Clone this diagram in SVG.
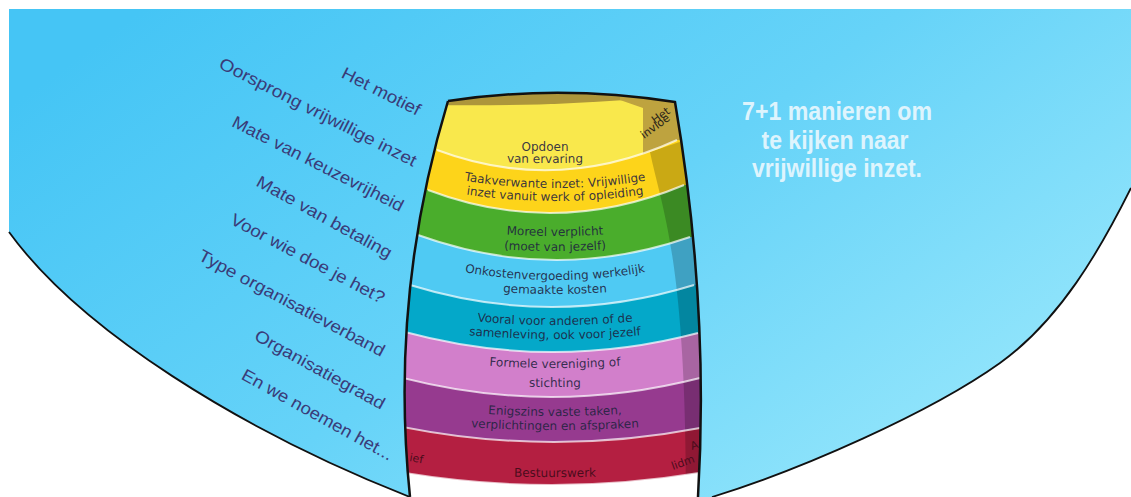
<svg xmlns="http://www.w3.org/2000/svg" width="1131" height="497" viewBox="0 0 1131 497">
<style>
.lbl{font-family:"Liberation Sans",Arial,sans-serif;font-size:17px;fill:#3a3b78;}
.bt{font-family:"DejaVu Sans","Liberation Sans",sans-serif;font-size:12px;fill:#1f2340;fill-opacity:.9;text-anchor:middle;}
.bl{fill:none;stroke:#ffffff;stroke-opacity:.7;stroke-width:2;}
.edge{fill:none;stroke:#111;stroke-width:1.8;}
.title{font-family:"Liberation Sans Narrow","Liberation Sans",Arial,sans-serif;font-weight:bold;font-size:26px;fill:#eaf8fe;fill-opacity:.92;text-anchor:middle;}
.part{font-family:"DejaVu Sans","Liberation Sans",sans-serif;font-size:11px;fill:#2a2418;}
</style>
<defs>
<linearGradient id="bg" x1="0" y1="0.2" x2="1" y2="0.8">
<stop offset="0" stop-color="#45c5f5"/>
<stop offset="0.5" stop-color="#66d3f8"/>
<stop offset="1" stop-color="#9ae8fc"/>
</linearGradient>
<clipPath id="barrelClip">
<path d="M448,101 Q560,84 675,102 C690,190 708,330 698,497 L410,497 C400,400 400,260 448,101 Z"/>
</clipPath>
<path id="p1b" d="M420,159 Q545,167 670,159"/>
<path id="p2a" d="M430,174 Q555,202 680,174"/>
<path id="p2b" d="M430,188 Q555,214 680,188"/>
<path id="p3a" d="M430,226 Q555,246 680,226"/>
<path id="p3b" d="M430,241 Q555,261 680,241"/>
<path id="p4a" d="M430,265 Q555,295 680,265"/>
<path id="p4b" d="M430,284 Q555,304 680,284"/>
<path id="p5a" d="M430,316 Q555,334 680,316"/>
<path id="p5b" d="M430,331 Q555,347 680,331"/>
<path id="p6a" d="M430,360 Q555,376 680,360"/>
<path id="p6b" d="M430,384 Q555,390 680,384"/>
<path id="p7a" d="M430,409 Q555,423 680,409"/>
<path id="p7b" d="M430,424 Q555,436 680,424"/>
<path id="p8" d="M430,474 Q555,480 680,474"/>
</defs>

<g id="background">
<path d="M9,9 L1131,9 L1131,188 C1100,250 1060,320 1000,363 C930,413 800,470 712,497 L410,497 C240,430 80,330 9,232 Z" fill="url(#bg)"/>
<path class="edge" d="M9,232 C80,330 240,430 410,497"/>
<path class="edge" d="M1131,188 C1100,250 1060,320 1000,363 C930,413 800,470 712,497"/>
</g>

<g id="barrel" clip-path="url(#barrelClip)">
<g id="band1"><path d="M380,80 L730,80 L730,500 L380,500 Z" fill="#f9e84c"/>
<path d="M380,80 L625,80 L625,100 Q520,108 380,104 Z" fill="#ad963b"/>
<path d="M620,88 L620,100 L643,108 L643,165 L730,165 L730,88 Z" fill="#bea33f"/>
</g>
<g id="band2"><path d="M380,150 L437,150 Q557,195 677,140 L730,140 L730,500 L380,500 Z" fill="#fdd41a"/></g>
<g id="band3"><path d="M380,190 L428,190 Q556,238.5 684,185 L730,185 L730,500 L380,500 Z" fill="#4aad2c"/></g>
<g id="band4"><path d="M380,235 L418,235 Q554,284 690,237 L730,237 L730,500 L380,500 Z" fill="#4fcaf3"/></g>
<g id="band5"><path d="M380,285 L410,285 Q552,329 694,285 L730,285 L730,500 L380,500 Z" fill="#04a8c9"/></g>
<g id="band6"><path d="M380,332 L405,332 Q551.5,371.5 698,333 L730,333 L730,500 L380,500 Z" fill="#d27fcb"/></g>
<g id="band7"><path d="M380,378 L403,378 Q551.5,416 700,378 L730,378 L730,500 L380,500 Z" fill="#963a8f"/></g>
<g id="band8"><path d="M380,427 L403,427 Q551.5,456.5 700,428 L730,428 L730,500 L380,500 Z" fill="#b41f41"/></g>

<path id="shade" d="M650,152 C662,210 686,260 686,497 L730,497 L730,125 Z" fill="#000" fill-opacity=".2"/>

<g id="band9"><path d="M380,473 L405,473 Q552,497 699,473 L730,473 L730,500 L380,500 Z" fill="#ffffff"/></g>

<g id="boundaries">
<path class="bl" d="M437,150 Q557,195 677,140"/>
<path class="bl" d="M428,190 Q556,238.5 684,185"/>
<path class="bl" d="M418,235 Q554,284 690,237"/>
<path class="bl" d="M410,285 Q552,329 694,285"/>
<path class="bl" d="M405,332 Q551.5,371.5 698,333"/>
<path class="bl" d="M403,378 Q551.5,416 700,378"/>
<path class="bl" d="M403,427 Q551.5,456.5 700,428"/>
<path class="bl" d="M405,473 Q552,497 699,473"/>
</g>

<g id="bandtexts">
<text class="bt" x="545" y="151">Opdoen</text>
<text class="bt"><textPath href="#p1b" startOffset="50%">van ervaring</textPath></text>
<text class="bt"><textPath href="#p2a" startOffset="50%">Taakverwante inzet: Vrijwillige</textPath></text>
<text class="bt"><textPath href="#p2b" startOffset="50%">inzet vanuit werk of opleiding</textPath></text>
<text class="bt"><textPath href="#p3a" startOffset="50%">Moreel verplicht</textPath></text>
<text class="bt"><textPath href="#p3b" startOffset="50%">(moet van jezelf)</textPath></text>
<text class="bt"><textPath href="#p4a" startOffset="50%">Onkostenvergoeding werkelijk</textPath></text>
<text class="bt"><textPath href="#p4b" startOffset="50%">gemaakte kosten</textPath></text>
<text class="bt"><textPath href="#p5a" startOffset="50%">Vooral voor anderen of de</textPath></text>
<text class="bt"><textPath href="#p5b" startOffset="50%">samenleving, ook voor jezelf</textPath></text>
<text class="bt"><textPath href="#p6a" startOffset="50%">Formele vereniging of</textPath></text>
<text class="bt"><textPath href="#p6b" startOffset="50%">stichting</textPath></text>
<text class="bt"><textPath href="#p7a" startOffset="50%">Enigszins vaste taken,</textPath></text>
<text class="bt"><textPath href="#p7b" startOffset="50%">verplichtingen en afspraken</textPath></text>
<text class="bt" style="fill:#3d0a18"><textPath href="#p8" startOffset="50%">Bestuurswerk</textPath></text>
</g>

<g id="partials">
<text class="part" transform="translate(655,124) rotate(-36)">Het</text>
<text class="part" transform="translate(644,139) rotate(-36)">invloe</text>
<text class="part" style="fill:#4a0c1c" transform="translate(409,461) rotate(10)">ief</text>
<text class="part" style="fill:#4a0c1c" transform="translate(692,450) rotate(-20)">A</text>
<text class="part" style="fill:#4a0c1c" transform="translate(673,470) rotate(-20)">lidm</text>
</g>
</g>

<path id="barrelOutline" d="M448,101 Q560,84 675,102 C690,190 708,330 698,497 M410,497 C400,400 400,260 448,101" fill="none" stroke="#111" stroke-width="2.5"/>

<g id="labels">
<text class="lbl" text-anchor="end" textLength="86" lengthAdjust="spacingAndGlyphs" transform="translate(417,116) rotate(27)">Het motief</text>
<text class="lbl" text-anchor="end" textLength="219" lengthAdjust="spacingAndGlyphs" transform="translate(413,167) rotate(27)">Oorsprong vrijwillige inzet</text>
<text class="lbl" text-anchor="end" textLength="190" lengthAdjust="spacingAndGlyphs" transform="translate(400,212) rotate(27)">Mate van keuzevrijheid</text>
<text class="lbl" text-anchor="end" textLength="152" lengthAdjust="spacingAndGlyphs" transform="translate(388,259) rotate(29)">Mate van betaling</text>
<text class="lbl" text-anchor="end" textLength="172" lengthAdjust="spacingAndGlyphs" transform="translate(381,304) rotate(28)">Voor wie doe je het?</text>
<text class="lbl" text-anchor="end" textLength="208" lengthAdjust="spacingAndGlyphs" transform="translate(381,357) rotate(28)">Type organisatieverband</text>
<text class="lbl" text-anchor="end" textLength="146" lengthAdjust="spacingAndGlyphs" transform="translate(381,410) rotate(29)">Organisatiegraad</text>
<text class="lbl" text-anchor="end" textLength="170" lengthAdjust="spacingAndGlyphs" transform="translate(389,461) rotate(29)">En we noemen het...</text>
</g>

<g id="title">
<text class="title" x="837" y="120" textLength="190" lengthAdjust="spacingAndGlyphs">7+1 manieren om</text>
<text class="title" x="835" y="149" textLength="147" lengthAdjust="spacingAndGlyphs">te kijken naar</text>
<text class="title" x="837" y="177" textLength="170" lengthAdjust="spacingAndGlyphs">vrijwillige inzet.</text>
</g>
</svg>
